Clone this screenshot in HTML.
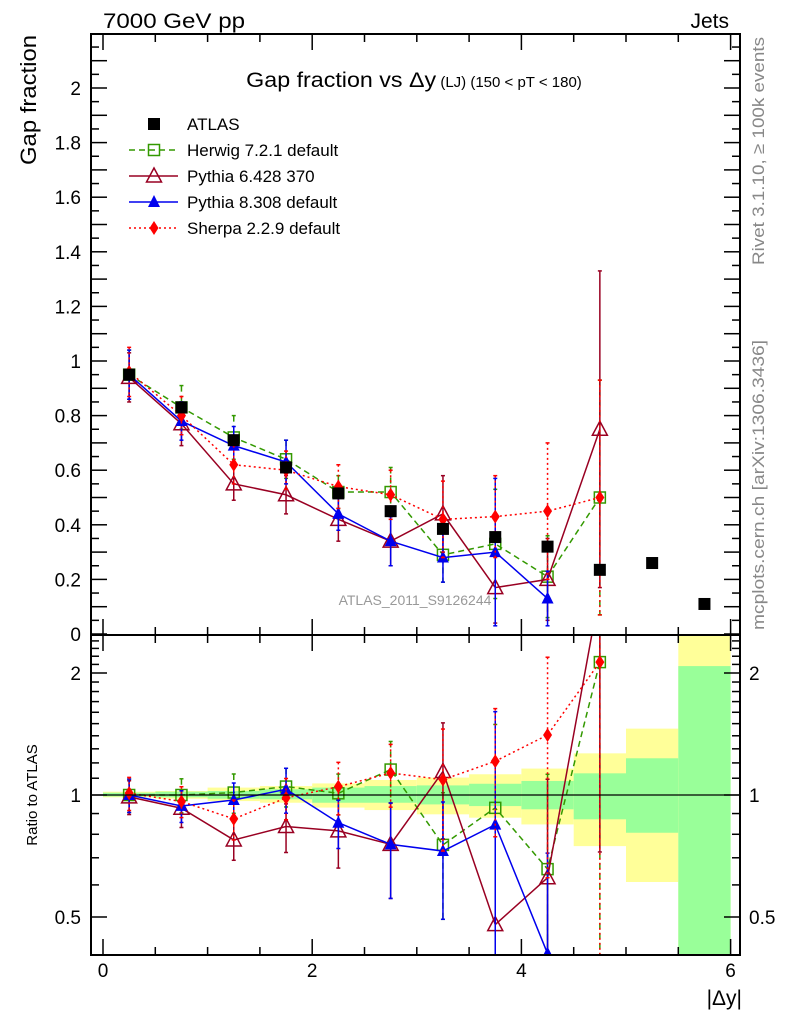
<!DOCTYPE html>
<html><head><meta charset="utf-8"><style>
html,body{margin:0;padding:0;background:#fff;width:786px;height:1024px;overflow:hidden;}
svg{display:block;font-family:"Liberation Sans",sans-serif;overflow:hidden;}
</style></head><body>
<svg id="c" width="786" height="1024" viewBox="0 0 786 1024" xmlns="http://www.w3.org/2000/svg">
<defs>
<clipPath id="cm"><rect x="91" y="34" width="649" height="601"/></clipPath>
<clipPath id="cr"><rect x="91" y="635" width="649" height="320"/></clipPath>
</defs>
<g id="bands" clip-path="url(#cr)"></g>
<g id="marks"></g>
<g id="axes"></g>
<text x="103" y="28" font-size="21" textLength="142" lengthAdjust="spacingAndGlyphs">7000 GeV pp</text>
<text x="729" y="28" font-size="21" text-anchor="end">Jets</text>
<text x="414" y="87" font-size="21" text-anchor="middle"><tspan textLength="190" lengthAdjust="spacingAndGlyphs">Gap fraction vs Δy</tspan><tspan font-size="15"> (LJ) (150 &lt; pT &lt; 180)</tspan></text>
<text transform="translate(36,100) rotate(-90)" font-size="22" text-anchor="middle" textLength="130" lengthAdjust="spacingAndGlyphs">Gap fraction</text>
<text transform="translate(37,795) rotate(-90)" font-size="15" text-anchor="middle">Ratio to ATLAS</text>
<text x="742" y="1005" font-size="21" text-anchor="end">|Δy|</text>
<text transform="translate(764,151) rotate(-90)" font-size="17" fill="#888" text-anchor="middle" textLength="228" lengthAdjust="spacingAndGlyphs">Rivet 3.1.10, ≥ 100k events</text>
<text transform="translate(764,485) rotate(-90)" font-size="17" fill="#888" text-anchor="middle" textLength="290" lengthAdjust="spacingAndGlyphs">mcplots.cern.ch [arXiv:1306.3436]</text>
<text x="415" y="605" font-size="14" fill="#999" text-anchor="middle">ATLAS_2011_S9126244</text>
<g id="legend"></g>
</svg>
<script>
const xCenters=[0.25,0.75,1.25,1.75,2.25,2.75,3.25,3.75,4.25,4.75,5.25,5.75];
const atlas=[0.95,0.83,0.71,0.61,0.515,0.45,0.385,0.355,0.32,0.235,0.26,0.11];
const herwig=[0.95,0.83,0.72,0.64,0.52,0.52,0.29,0.33,0.21,0.50];
const herwigErr=[0.09,0.08,0.08,0.07,0.06,0.09,0.1,0.2,0.15,0.43];
const py6=[0.94,0.77,0.55,0.51,0.42,0.34,0.44,0.17,0.20,0.75];
const py6Err=[0.09,0.08,0.06,0.07,0.08,0.09,0.14,0.13,0.15,0.58];
const py8=[0.95,0.78,0.69,0.63,0.44,0.34,0.28,0.30,0.13];
const py8Err=[0.09,0.07,0.07,0.08,0.06,0.09,0.09,0.27,0.10];
const sherpa=[0.96,0.80,0.62,0.60,0.54,0.51,0.42,0.43,0.45,0.50];
const sherpaErr=[0.09,0.07,0.07,0.07,0.08,0.09,0.14,0.15,0.25,0.43];
const binEdges=[0,0.5,1,1.5,2,2.5,3,3.5,4,4.5,5,5.5,6];
const yelUp=[1.019,1.023,1.043,1.052,1.068,1.089,1.104,1.125,1.162,1.267,1.458,3];
const yelDn=[0.987,0.979,0.966,0.957,0.931,0.918,0.896,0.879,0.846,0.748,0.610,0.3];
const grnUp=[1.013,1.019,1.023,1.033,1.043,1.052,1.056,1.066,1.083,1.131,1.232,2.08];
const grnDn=[0.992,0.987,0.979,0.976,0.957,0.957,0.948,0.939,0.922,0.871,0.807,0.3];
const mainTicks=["0","0.2","0.4","0.6","0.8","1","1.2","1.4","1.6","1.8","2"];
const ratioTicks=["0.5","1","2"];
const xTicks=["0","2","4","6"];

const NS="http://www.w3.org/2000/svg";
const X=v=>103+104.6*v;
const Y=v=>634-273*v;
const R=v=>795-122*Math.log2(v);
function mk(p,tag,a){const e=document.createElementNS(NS,tag);for(const k in a)e.setAttribute(k,a[k]);p.appendChild(e);return e;}
const bands=document.getElementById('bands'),marks=document.getElementById('marks'),axes=document.getElementById('axes'),legend=document.getElementById('legend');

for(let i=0;i<yelUp.length;i++){
  let r=mk(bands,'rect',{x:X(binEdges[i]),y:R(yelUp[i]),width:X(binEdges[i+1])-X(binEdges[i]),height:R(yelDn[i])-R(yelUp[i]),fill:'#ffff99'});
  
  
  let g=mk(bands,'rect',{x:X(binEdges[i]),y:R(grnUp[i]),width:X(binEdges[i+1])-X(binEdges[i]),height:R(grnDn[i])-R(grnUp[i]),fill:'#99ff99'});
  
  
}
let one=mk(axes,'line',{x1:91,x2:740,y1:R(1),y2:R(1),stroke:'#000','stroke-width':1.2});



function marker(g,type,x,y,col){
  const s=6;
  if(type==='sq')mk(g,'rect',{x:x-s,y:y-s,width:2*s,height:2*s,fill:'#000'});
  if(type==='osq')mk(g,'rect',{x:x-5.5,y:y-5.5,width:11,height:11,fill:'none',stroke:col,'stroke-width':1.5});
  if(type==='otri')mk(g,'polygon',{points:`${x},${y-8} ${x-7.5},${y+6} ${x+7.5},${y+6}`,fill:'none',stroke:col,'stroke-width':1.5});
  if(type==='tri')mk(g,'polygon',{points:`${x},${y-7} ${x-6},${y+5} ${x+6},${y+5}`,fill:col});
  if(type==='dia')mk(g,'polygon',{points:`${x},${y-7} ${x-4.5},${y} ${x},${y+7} ${x+4.5},${y}`,fill:col});
}
const series=[
 {name:'herwig',vals:herwig,err:herwigErr,col:'#339900',dash:'6,4',m:'osq'},
 {name:'pythia6',vals:py6,err:py6Err,col:'#990022',dash:'',m:'otri'},
 {name:'pythia8',vals:py8,err:py8Err,col:'#0000ee',dash:'',m:'tri'},
 {name:'sherpa',vals:sherpa,err:sherpaErr,col:'#ff0000',dash:'2,3',m:'dia'}
];
function drawPanel(clip,yf,isRatio){
  const g=mk(marks,'g',{'clip-path':`url(#${clip})`});
  
  
  series.forEach(s=>{
    const sg=mk(g,'g',{});
    
    
    const v=s.vals.map((d,i)=>isRatio?d/atlas[i]:d);
    const e=s.err.map((d,i)=>isRatio?d/atlas[i]:d);
    for(let i=0;i<v.length;i++){
      const x=X(xCenters[i]);const lo=Math.max(v[i]-e[i],0.01);
      mk(sg,'line',{x1:x,x2:x,y1:yf(v[i]+e[i]),y2:yf(lo),stroke:s.col,'stroke-width':1.5,'stroke-dasharray':s.dash});
      mk(sg,'line',{x1:x-2,x2:x+2,y1:yf(v[i]+e[i]),y2:yf(v[i]+e[i]),stroke:s.col,'stroke-width':1.5});
      mk(sg,'line',{x1:x-2,x2:x+2,y1:yf(lo),y2:yf(lo),stroke:s.col,'stroke-width':1.5});
    }
    mk(sg,'polyline',{points:v.map((d,i)=>X(xCenters[i])+','+yf(d)).join(' '),fill:'none',stroke:s.col,'stroke-width':1.5,'stroke-dasharray':s.dash});
    v.forEach((d,i)=>marker(sg,s.m,X(xCenters[i]),yf(d),s.col));
  });
  if(!isRatio){
    const ag=mk(g,'g',{});
    
    
    atlas.forEach((d,i)=>marker(ag,'sq',X(xCenters[i]),Y(d)));
  }
}
drawPanel('cm',Y,false);
drawPanel('cr',R,true);

[[34,635],[635,955]].forEach((f,k)=>{
  const r=mk(axes,'rect',{x:91,y:f[0],width:649,height:f[1]-f[0],fill:'none',stroke:'#000','stroke-width':2});
  
  
});
for(let i=0;i<=43;i++){const v=i*0.05;const y=Y(v);if(y<35)continue;const L=(i%2===0)?16:8;
  mk(axes,'line',{x1:91,x2:91+L,y1:y,y2:y,stroke:'#000','stroke-width':1.5});
  mk(axes,'line',{x1:740-L,x2:740,y1:y,y2:y,stroke:'#000','stroke-width':1.5});}
mainTicks.forEach(t=>{const el=mk(axes,'text',{x:81,y:Y(parseFloat(t))+7,'font-size':19,'text-anchor':'end'});el.textContent=t;
  
  });
const rt=[0.4,0.5,0.6,0.7,0.8,0.9,1,1.1,1.2,1.3,1.4,1.5,1.6,1.7,1.8,1.9,2,2.1,2.2,2.3,2.4];
rt.forEach(v=>{const y=R(v);if(y>954||y<636)return;const L=[0.5,1,2].includes(v)?16:8;
  mk(axes,'line',{x1:91,x2:91+L,y1:y,y2:y,stroke:'#000','stroke-width':1.5});
  mk(axes,'line',{x1:740-L,x2:740,y1:y,y2:y,stroke:'#000','stroke-width':1.5});});
ratioTicks.forEach(t=>{const y=R(parseFloat(t))+7;
  const a=mk(axes,'text',{x:81,y:y,'font-size':19,'text-anchor':'end'});a.textContent=t;
  
  
  const b=mk(axes,'text',{x:749,y:y,'font-size':19});b.textContent=t;
  
  });
for(let i=0;i<=12;i++){const v=i*0.5;const x=X(v);const L=(i%4===0)?16:8;
  [[34,34+L],[635-L,635],[635,635+L],[955-L,955]].forEach(p=>mk(axes,'line',{x1:x,x2:x,y1:p[0],y2:p[1],stroke:'#000','stroke-width':1.5}));}
xTicks.forEach(t=>{const el=mk(axes,'text',{x:X(parseFloat(t)),y:977,'font-size':19,'text-anchor':'middle'});el.textContent=t;
  
  });

const legNames=['ATLAS','Herwig 7.2.1 default','Pythia 6.428 370','Pythia 8.308 default','Sherpa 2.2.9 default'];
legNames.forEach((n,i)=>{const y=124+i*26;const lg=mk(legend,'g',{});
  
  
  if(i===0)marker(lg,'sq',154,y);
  else{const s=series[i-1];mk(lg,'line',{x1:129,x2:178,y1:y,y2:y,stroke:s.col,'stroke-width':1.5,'stroke-dasharray':s.dash});marker(lg,s.m,154,y,s.col);}
  const t=mk(lg,'text',{x:187,y:y+6,'font-size':17});t.textContent=n;});
</script>
</body></html>
